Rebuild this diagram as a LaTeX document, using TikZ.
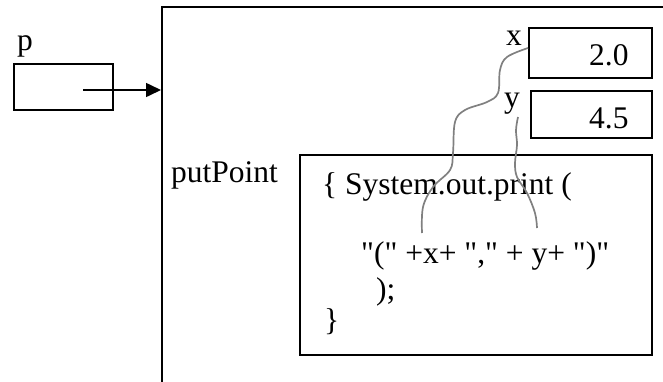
\documentclass[tikz,border=0pt]{standalone}
\usepackage{fontspec}
\setmainfont{Liberation Serif}[Ligatures=TeXOff]
\usetikzlibrary{arrows.meta}
\begin{document}
\begin{tikzpicture}[x=1pt,y=-1pt,
  box/.style={draw,line width=1.9pt,inner sep=0pt,anchor=north west},
  lbl/.style={anchor=base west,inner sep=0pt,font=\fontsize{31.5}{36}\selectfont},
  link/.style={draw=gray,line width=1.7pt}]
\useasboundingbox (0,0) rectangle (663,381);
\clip (0,0) rectangle (663,381);
% big frame (extends past right and bottom edges)
\node[box,minimum width=600pt,minimum height=450pt] (frame) at (161,6) {};
% p variable
\node[lbl] (plbl) at (17,50) {p};
\node[box,minimum width=99pt,minimum height=46pt] (pbox) at (13,63) {};
\coordinate (pin) at (83,90);
\draw[line width=1.6pt,-{Triangle[length=15pt,width=14pt]}] (pin) -- (frame.west |- pin);
% x and y fields
\node[lbl] (xlbl) at (506,45) {x};
\node[box,minimum width=123pt,minimum height=50pt] (xbox) at (528,27) {};
\node[lbl] (xval) at (589,65) {2.0};
\node[lbl] (ylbl) at (504,107) {y};
\node[box,minimum width=121pt,minimum height=47pt] (ybox) at (530,90) {};
\node[lbl] (yval) at (589,128) {4.5};
% method
\node[lbl] (meth) at (171,182) {putPoint};
\node[box,minimum width=352pt,minimum height=200pt] (code) at (299,154) {};
\node[lbl] (c1) at (322,194) {\{ System.out.print (};
\node[lbl] (c2) at (361,263) {"(" +x+ "," + y+ ")"};
\node[lbl] (c3) at (376,299) {);};
\node[lbl] (c4) at (324,330) {\}};
% links
\coordinate (xs) at (xbox.west |- 0,48);
\coordinate (xe) at (422,233);
\coordinate (ys) at (518,117);
\coordinate (ye) at (537,228);
\draw[link] plot[smooth,tension=0.6] coordinates {(xs) (507,57) (500,70) (498,93) (487,102) (465,110) (455,122) (453,153) (450,170) (433,187) (423,207) (xe)};
\draw[link] plot[smooth,tension=0.6] coordinates {(ys) (516,130) (517,145) (515,163) (517,177) (527,193) (535,213) (ye)};
\end{tikzpicture}
\end{document}
